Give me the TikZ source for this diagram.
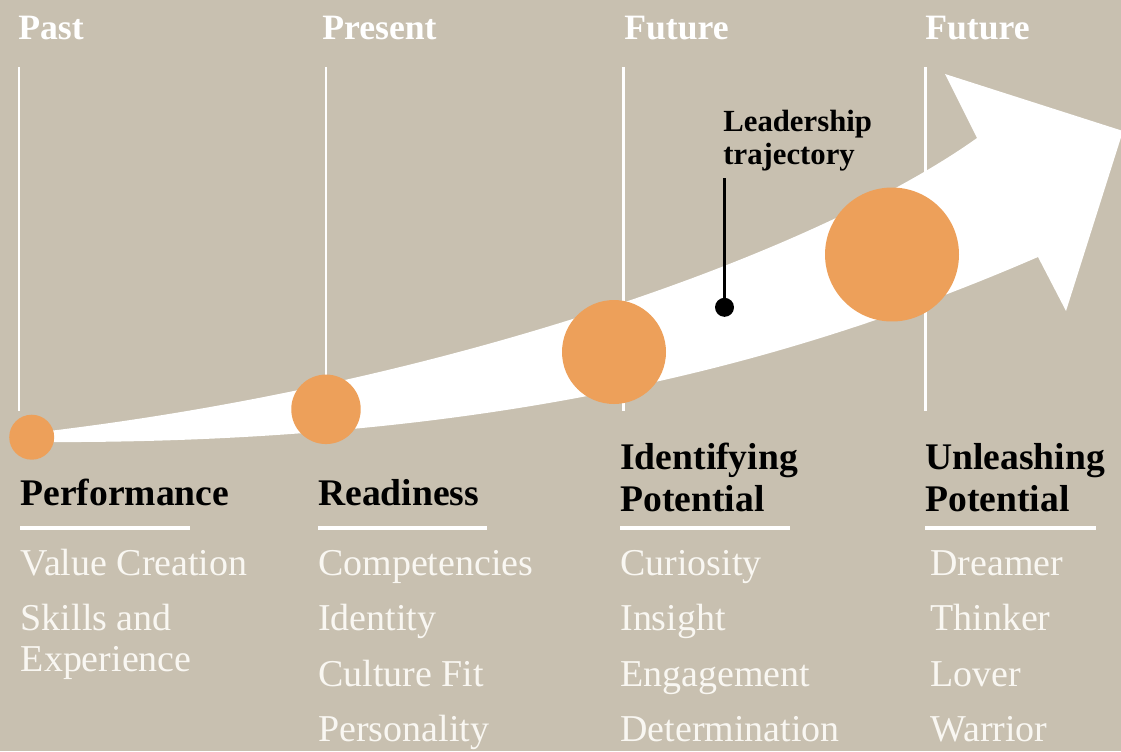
\documentclass[tikz,border=0pt]{standalone}
\usepackage{fontspec}
\setmainfont{Liberation Serif}
\definecolor{bgsand}{HTML}{C8C0B0}
\definecolor{dotorange}{HTML}{EDA05A}
\definecolor{itemcream}{HTML}{F9F7F2}
\tikzset{
 when/.style={anchor=base west, text=white, inner sep=0pt,
   font=\fontsize{20.3}{24}\selectfont\bfseries},
 stage/.style={anchor=base west, text=black, inner sep=0pt,
   font=\fontsize{21.4}{24}\selectfont\bfseries},
 item/.style={anchor=base west, text=itemcream, inner sep=0pt,
   font=\fontsize{21.6}{24}\selectfont},
 timeline/.style={draw=white, line width=1.7pt},
 underrule/.style={draw=white, line width=2.3pt},
 bubble/.style={circle, fill=dotorange, inner sep=0pt},
}

\begin{document}
\begin{tikzpicture}[x=0.02cm, y=-0.02cm]
        \fill[bgsand] (0,0) rectangle (1121,751);
        \useasboundingbox (0,0) rectangle (1121,751);
        \clip (0,0) rectangle (1121,751);

        % time columns
        \node[when] (past) at (18,39) {Past};
        \node[when] (present) at (322,39) {Present};
        \node[when] (futurea) at (624,39) {Future};
        \node[when] (futureb) at (925,39) {Future};
        \foreach \xx in {19,326,623,925}
            \draw[timeline] (\xx,67) -- (\xx,411);

        % the trajectory arrow
        \fill[white] (32,433) .. controls (450,385) and (820,250) .. (977,138)
            -- (945,74) -- (1123,131) -- (1066,311) -- (1038,257)
            .. controls (800,360) and (500,445) .. (32,442) -- cycle;

        \node[bubble, minimum size=0.9cm] (perfdot) at (31.7,437.2) {};
        \node[bubble, minimum size=1.39cm] (readydot) at (326,409.3) {};
        \node[bubble, minimum size=2.08cm] (identdot) at (614,352) {};
        \node[bubble, minimum size=2.68cm] (unleashdot) at (892,254.5) {};

        % leader label
        \node[stage, font=\fontsize{17.5}{20}\selectfont\bfseries] (lead) at (723,131.5) {Leadership};
        \node[stage, font=\fontsize{17.5}{20}\selectfont\bfseries] (traj) at (723,164) {trajectory};
        \node[circle, fill=black, inner sep=0pt, minimum size=0.38cm] (trajdot) at (724.5,307.3) {};
        \coordinate (trajtop) at (724.5,178);
        \draw[line width=1.9pt] (trajdot.center) -- (trajtop);

        % stage titles
        \node[stage] (perf) at (20,505.5) {Performance};
        \node[stage] (ready) at (318,505.5) {Readiness};
        \node[stage] (identa) at (620,469.3) {Identifying};
        \node[stage] (identb) at (620,511.7) {Potential};
        \node[stage] (unla) at (925,469.3) {Unleashing};
        \node[stage] (unlb) at (925,511.7) {Potential};
        \draw[underrule] (20,528) -- (190,528);
        \draw[underrule] (318,528) -- (487,528);
        \draw[underrule] (620,528) -- (790,528);
        \draw[underrule] (925,528) -- (1096,528);

        % items
        \node[item] (perfa) at (20.5,575) {Value Creation};
        \node[item] (perfb) at (20.5,630.7) {Skills and};
        \node[item] (perfc) at (20.5,671.7) {Experience};
        \node[item] (readya) at (318,575) {Competencies};
        \node[item] (readyb) at (318,630.7) {Identity};
        \node[item] (readyc) at (318,686.7) {Culture Fit};
        \node[item] (readyd) at (318,741.7) {Personality};
        \node[item] (identc) at (620,575) {Curiosity};
        \node[item] (identd) at (620,630.7) {Insight};
        \node[item] (idente) at (620,686.7) {Engagement};
        \node[item] (identf) at (620,741.7) {Determination};
        \node[item] (unlc) at (930,575) {Dreamer};
        \node[item] (unld) at (930,630.7) {Thinker};
        \node[item] (unle) at (930,686.7) {Lover};
        \node[item] (unlf) at (930,741.7) {Warrior};
    \end{tikzpicture}
\end{document}
